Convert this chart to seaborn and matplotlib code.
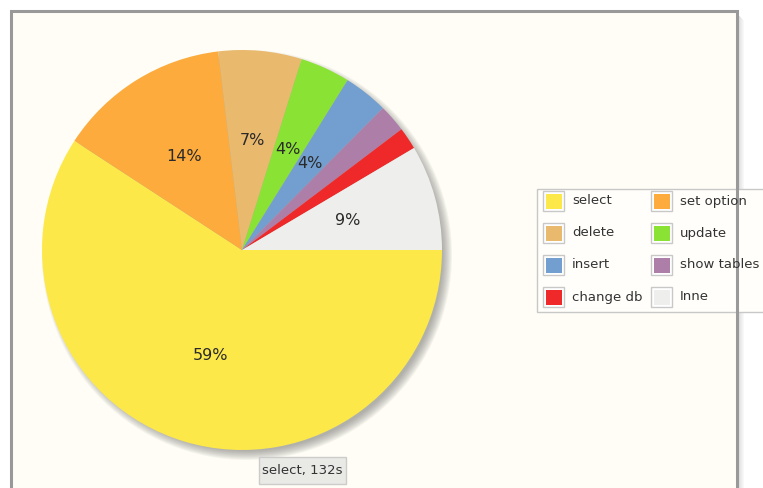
import matplotlib
matplotlib.use("Agg")
import matplotlib.pyplot as plt
import matplotlib.patches as mpatches
import seaborn as sns

# data
labels = ['select', 'set option', 'delete', 'update', 'insert', 'show tables', 'change db', 'Inne']
values = [132, 31, 15, 9, 8, 5, 4, 19]
colors = ['#fde84a', '#fcab3c', '#e9b96e', '#8ae234', '#729fcf', '#ad7fa8', '#ef2929', '#eeeeec']
tooltip_text = 'select, 132s'

sns.set_theme(style="white")
plt.rcParams['font.family'] = ['DejaVu Sans']

W, H = 763, 488
fig = plt.figure(figsize=(W / 100, H / 100), dpi=100)
fig.patch.set_facecolor('white')
ax = fig.add_axes([0, 0, 1, 1])
ax.set_axis_off()

# frame (pixel coords, y measured from bottom)
ax.add_patch(mpatches.Rectangle((11, -20), 726, H - 11 + 20, facecolor='#fffdf5',
                                edgecolor='none', zorder=0))
for k in range(1, 7):
    ax.add_patch(mpatches.Rectangle((738 + k - 1, -20), 1, H - 14 + 20 - k,
                                    facecolor='#b0b0b0', alpha=0.5 - k * 0.07,
                                    edgecolor='none', zorder=0))

cx, cy, r = 242, H - 250, 200

# soft shadow behind the pie, offset to lower right
for k in range(10):
    ax.add_patch(mpatches.Circle((cx + 5, cy - 5), r + 5 - k, facecolor='#707070',
                                 alpha=0.07, edgecolor='none', zorder=1))


def pct(p):
    return f'{p:.0f}%' if p >= 3 else ''


wedges, texts, autotexts = ax.pie(values, colors=colors, startangle=0, counterclock=False,
                                  center=(cx, cy), radius=r, autopct=pct, pctdistance=0.55,
                                  frame=True, wedgeprops=dict(linewidth=0, zorder=2),
                                  textprops=dict(color='#2a2a2a', fontsize=11.5))
for t in autotexts:
    t.set_zorder(3)

ax.set_xlim(0, W)
ax.set_ylim(0, H)
ax.set_aspect('auto')
ax.set_axis_off()

# frame border on top
ax.add_patch(mpatches.Rectangle((10.5, -20), 726.5, H - 10.5 + 20, facecolor='none',
                                edgecolor='#999999', linewidth=2.2, zorder=6))

# legend
lx, ly, lw, lh = 537, H - 312, 240, 123
ax.add_patch(mpatches.Rectangle((lx, ly), lw, lh, facecolor='#fffefa', edgecolor='#c8c8c8',
                                linewidth=1, zorder=5))
col_x = [543, 651]
row_y = [201, 233, 265, 297]
for i, (lab, col) in enumerate(zip(labels, colors)):
    x0 = col_x[i % 2]
    y0 = H - row_y[i // 2]
    ax.add_patch(mpatches.Rectangle((x0, y0 - 10), 21, 20, facecolor='white',
                                    edgecolor='#c8c8c8', linewidth=1, zorder=7))
    ax.add_patch(mpatches.Rectangle((x0 + 2.5, y0 - 7.5), 16, 15, facecolor=col,
                                    edgecolor='none', zorder=8))
    ax.text(x0 + 29, y0, lab, fontsize=9.5, color='#333333', va='center', ha='left', zorder=8)

# tooltip
ax.add_patch(mpatches.Rectangle((259, H - 484), 87, 27, facecolor='#e9e9e6', edgecolor='#cccccc',
                                linewidth=1, zorder=9))
ax.text(302.5, H - 470.5, tooltip_text, fontsize=9.5, color='#333333', ha='center', va='center',
        zorder=10)

fig.savefig('out.png', dpi=100)
